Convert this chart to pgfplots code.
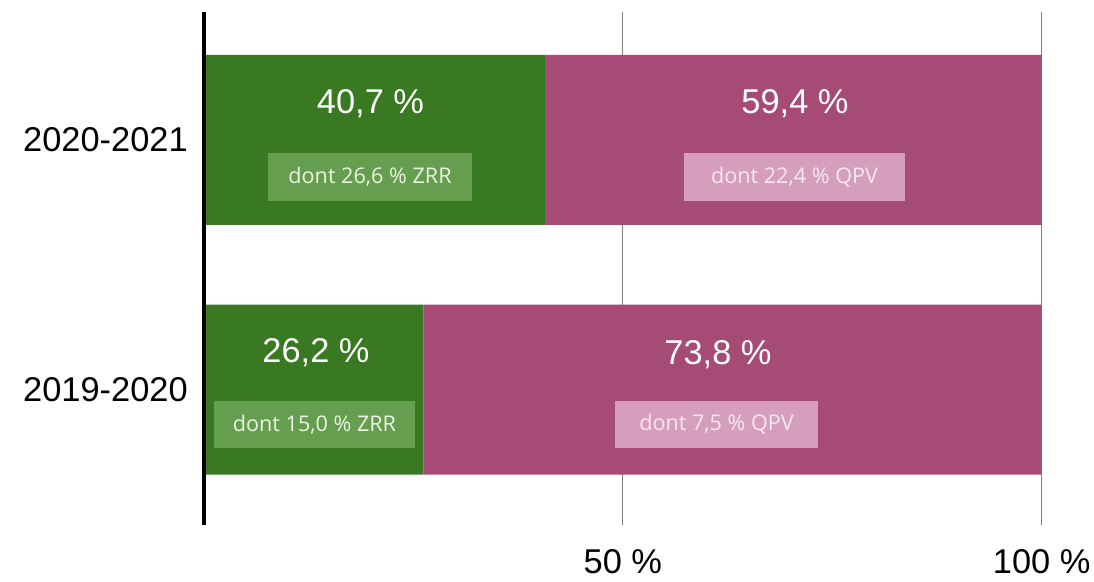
\documentclass[border=0pt]{standalone}
\usepackage{pgfplots}
\pgfplotsset{compat=1.18}
\usepackage{fontspec}
\setmainfont{Liberation Sans}
\newfontfamily\smallfont{Open Sans}
\definecolor{greenbar}{RGB}{57,121,34}
\definecolor{greenbox}{RGB}{100,158,78}
\definecolor{pinkbar}{RGB}{165,75,118}
\definecolor{pinkbox}{RGB}{213,158,188}
\definecolor{greentext}{RGB}{236,243,226}
\definecolor{pinktext}{RGB}{246,232,240}
\newcommand{\bigf}{\fontsize{25.8}{30}\selectfont}
\newcommand{\smlf}{\smallfont\fontsize{16.2}{19}\selectfont}
\begin{document}
\begin{tikzpicture}
\useasboundingbox (-153pt,-42pt) rectangle (667.5pt,393.75pt);
\begin{axis}[
  at={(0pt,0pt)}, anchor=south west,
  scale only axis,
  width=628.3pt, height=384.75pt,
  xbar stacked,
  bar width=127.5pt,
  xmin=0, xmax=100,
  ymin=-0.543, ymax=1.513,
  xtick={50,100},
  xticklabels={50 \%,100 \%},
  ytick={0,1},
  yticklabels={2019-2020,2020-2021},
  major tick length=0pt,
  tick style={draw=none},
  axis line style={draw=none},
  xmajorgrids,
  grid style={gray, line width=0.9pt},
  xticklabel style={font=\bigf, anchor=north, inner sep=0pt, yshift=-18.5pt},
  yticklabel style={font=\bigf, anchor=east, inner sep=0pt, xshift=-12pt},
  clip=true,
]
\addplot[fill=greenbar, draw=none] coordinates {(26.2,0) (40.7,1)};
\addplot[fill=pinkbar, draw=none] coordinates {(73.8,0) (59.4,1)};
\coordinate (L0) at (axis cs:0,-0.543);
\coordinate (L1) at (axis cs:0,1.513);
\coordinate (v1) at (axis cs:19.88,1.144);
\coordinate (v2) at (axis cs:70.55,1.144);
\coordinate (v3) at (axis cs:13.37,0.148);
\coordinate (v4) at (axis cs:61.36,0.140);
\coordinate (b1) at (axis cs:19.82,0.852);
\coordinate (b2) at (axis cs:70.49,0.852);
\coordinate (b3) at (axis cs:13.19,-0.140);
\coordinate (b4) at (axis cs:61.18,-0.140);
\end{axis}
\draw[black, line width=2.3pt] (L0) -- (L1);
% value labels
\node[font=\bigf, text=white] at (v1) {40,7 \%};
\node[font=\bigf, text=white] at (v2) {59,4 \%};
\node[font=\bigf, text=white] at (v3) {26,2 \%};
\node[font=\bigf, text=white] at (v4) {73,8 \%};
% sub-labels
\node[font=\smlf, text=greentext, fill=greenbox, inner sep=0pt, minimum width=153pt, minimum height=36.5pt] at (b1) {dont 26,6 \% ZRR};
\node[font=\smlf, text=pinktext, fill=pinkbox, inner sep=0pt, minimum width=165.5pt, minimum height=36pt] at (b2) {dont 22,4 \% QPV};
\node[font=\smlf, text=greentext, fill=greenbox, inner sep=0pt, minimum width=150.5pt, minimum height=35.5pt] at (b3) {dont 15,0 \% ZRR};
\node[font=\smlf, text=pinktext, fill=pinkbox, inner sep=0pt, minimum width=152.5pt, minimum height=35.5pt] at (b4) {dont 7,5 \% QPV};
\end{tikzpicture}
\end{document}
